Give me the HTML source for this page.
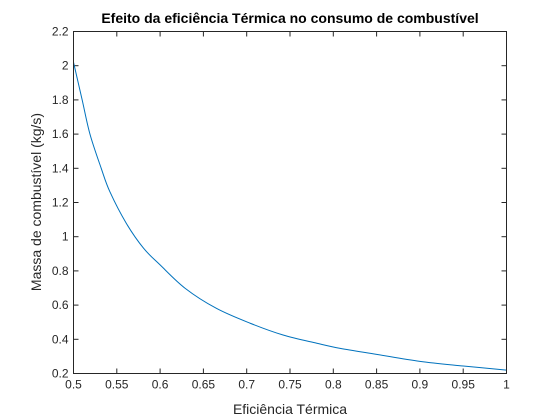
<!DOCTYPE html>
<html><head><meta charset="utf-8"><style>
body{margin:0;background:#fff;}
svg{display:block;font-family:"Liberation Sans",Arial,sans-serif;}
</style></head><body>
<svg id="chart" width="560" height="420" viewBox="0 0 560 420">
<rect x="0" y="0" width="560" height="420" fill="#fff"/>
<g id="ticks"></g>
<path id="curve" fill="none" stroke="#0072BD" stroke-width="1"/>
<rect x="73.5" y="31.5" width="433" height="342" fill="none" stroke="#262626" stroke-width="1"/>
<text x="290" y="23" text-anchor="middle" font-size="14" font-weight="bold" fill="#000">Efeito da eficiência Térmica no consumo de combustível</text>
<text x="290" y="414" text-anchor="middle" font-size="14" fill="#262626">Eficiência Térmica</text>
<text transform="translate(41,202) rotate(-90)" text-anchor="middle" font-size="14" fill="#262626">Massa de combustível (kg/s)</text>
</svg>
<script>
const xValues=[0.5,0.51,0.519,0.532,0.542,0.561,0.581,0.6,0.629,0.665,0.704,0.742,0.781,0.808,0.85,0.9,0.95,1.0];
const yValues=[2.02,1.8,1.6,1.4,1.263,1.078,0.932,0.835,0.698,0.581,0.494,0.425,0.377,0.347,0.312,0.271,0.244,0.22];
const xTicks=[0.5,0.55,0.6,0.65,0.7,0.75,0.8,0.85,0.9,0.95,1];
const xTickLabels=["0.5","0.55","0.6","0.65","0.7","0.75","0.8","0.85","0.9","0.95","1"];
const yTicks=[0.2,0.4,0.6,0.8,1,1.2,1.4,1.6,1.8,2,2.2];
const yTickLabels=["0.2","0.4","0.6","0.8","1","1.2","1.4","1.6","1.8","2","2.2"];
const L=73.5,R=506.5,T=31.5,B=373.5;
function sx(v){return L+(v-0.5)/(1-0.5)*(R-L);}
function sy(v){return B-(v-0.2)/(2.2-0.2)*(B-T);}
const NS="http://www.w3.org/2000/svg";
const g=document.getElementById('ticks');
function line(x1,y1,x2,y2){const l=document.createElementNS(NS,'line');l.setAttribute('x1',x1);l.setAttribute('y1',y1);l.setAttribute('x2',x2);l.setAttribute('y2',y2);l.setAttribute('stroke','#262626');


g.appendChild(l);}
function text(x,y,s,anchor){const t=document.createElementNS(NS,'text');t.setAttribute('x',x);t.setAttribute('y',y);t.setAttribute('text-anchor',anchor);t.setAttribute('font-size','12');t.setAttribute('fill','#262626');t.textContent=s;


g.appendChild(t);}
xTicks.forEach((v,i)=>{const x=sx(v);line(x,B,x,B-5);line(x,T,x,T+5);text(x,B+15,xTickLabels[i],'middle');});
yTicks.forEach((v,i)=>{const y=sy(v);line(L,y,L+5,y);line(R,y,R-5,y);text(L-5,y+4,yTickLabels[i],'end');});
const pts=xValues.map((x,i)=>[sx(x),sy(yValues[i])]);
let d='M'+pts[0][0]+','+pts[0][1];
for(let i=0;i<pts.length-1;i++){
 const p0=pts[Math.max(i-1,0)],p1=pts[i],p2=pts[i+1],p3=pts[Math.min(i+2,pts.length-1)];
 const c1=[p1[0]+(p2[0]-p0[0])/6,p1[1]+(p2[1]-p0[1])/6];
 const c2=[p2[0]-(p3[0]-p1[0])/6,p2[1]-(p3[1]-p1[1])/6];
 d+=' C'+c1[0]+','+c1[1]+' '+c2[0]+','+c2[1]+' '+p2[0]+','+p2[1];
}
document.getElementById('curve').setAttribute('d',d);
</script>
</body></html>
